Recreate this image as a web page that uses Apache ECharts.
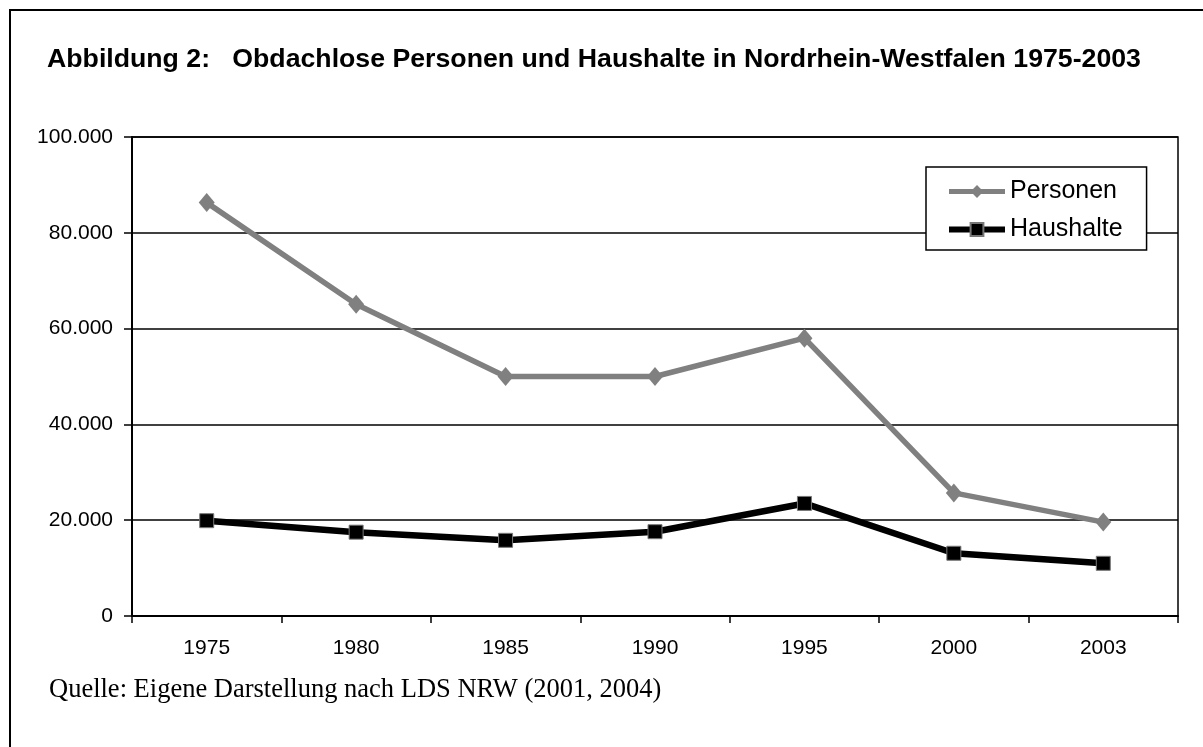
<!DOCTYPE html>
<html>
<head>
<meta charset="utf-8">
<script src="https://cdn.jsdelivr.net/npm/echarts@6/dist/echarts.min.js"></script>
<style>
  html, body { margin: 0; padding: 0; background: #fff; }
  #main { width: 1203px; height: 747px; }
</style>
</head>
<body>
<div id="main"></div>
<script>
var years = ['1975', '1980', '1985', '1990', '1995', '2000', '2003'];
var personen = [86300, 65100, 50000, 50000, 58000, 25700, 19600];
var haushalte = [19900, 17500, 15800, 17600, 23500, 13100, 11000];
var seriesNames = ['Personen', 'Haushalte'];
var yTicks = [0, 20000, 40000, 60000, 80000, 100000];

var sans = '"Liberation Sans", Arial, sans-serif';
var myChart = echarts.init(document.getElementById('main'));

function fmt(v) {
  return String(v).replace(/\B(?=(\d{3})+(?!\d))/g, '.');
}

var option = {
  backgroundColor: '#fff',
  animation: false,
  title: {
    text: 'Abbildung 2:   Obdachlose Personen und Haushalte in Nordrhein-Westfalen 1975-2003',
    left: 47,
    top: 46,
    padding: 0,
    textStyle: { fontFamily: sans, fontSize: 26.7, fontWeight: 'bold', color: '#000' }
  },
  graphic: [
    {
      type: 'rect',
      silent: true,
      shape: { x: 10, y: 10, width: 1200, height: 745 },
      style: { fill: 'none', stroke: '#000', lineWidth: 2 }
    },
    {
      type: 'text',
      left: 49,
      top: 677,
      style: {
        text: 'Quelle: Eigene Darstellung nach LDS NRW (2001, 2004)',
        font: '26.5px "Liberation Serif", "Times New Roman", serif',
        fill: '#000'
      }
    }
  ],
  legend: {
    data: [
      { name: seriesNames[0], lineStyle: { width: 5 } },
      { name: seriesNames[1], lineStyle: { width: 6 } }
    ],
    left: 926,
    top: 167,
    orient: 'vertical',
    padding: [12, 24, 8, 20],
    itemGap: 13,
    itemWidth: 56,
    itemHeight: 16,
    backgroundColor: '#fff',
    borderColor: '#000',
    borderWidth: 1.5,
    borderRadius: 0,
    textStyle: { fontFamily: sans, fontSize: 25, color: '#000' }
  },
  grid: {
    left: 132,
    right: 25,
    top: 137,
    bottom: 131,
    show: true,
    borderColor: '#000',
    borderWidth: 1.5
  },
  xAxis: {
    type: 'category',
    data: years,
    boundaryGap: true,
    axisLine: { lineStyle: { color: '#000', width: 2 } },
    axisTick: { show: true, length: 7, lineStyle: { color: '#000', width: 1.5 } },
    axisLabel: { margin: 22, fontFamily: sans, fontSize: 21, color: '#000' }
  },
  yAxis: {
    type: 'value',
    min: yTicks[0],
    max: yTicks[yTicks.length - 1],
    interval: yTicks[1] - yTicks[0],
    axisLine: { show: true, lineStyle: { color: '#000', width: 2 } },
    axisTick: { show: true, length: 8, lineStyle: { color: '#000', width: 1.5 } },
    splitLine: { lineStyle: { color: '#000', width: 1.5 } },
    axisLabel: {
      margin: 19,
      fontFamily: sans,
      fontSize: 21,
      color: '#000',
      formatter: fmt
    }
  },
  series: [
    {
      name: seriesNames[0],
      type: 'line',
      data: personen,
      symbol: 'diamond',
      symbolSize: [16, 19],
      lineStyle: { color: '#808080', width: 5.5 },
      itemStyle: { color: '#808080' }
    },
    {
      name: seriesNames[1],
      type: 'line',
      data: haushalte,
      symbol: 'rect',
      symbolSize: 14,
      lineStyle: { color: '#000', width: 6.5 },
      itemStyle: { color: '#000', borderColor: '#777', borderWidth: 1 }
    }
  ]
};
myChart.setOption(option);
</script>
</body>
</html>
